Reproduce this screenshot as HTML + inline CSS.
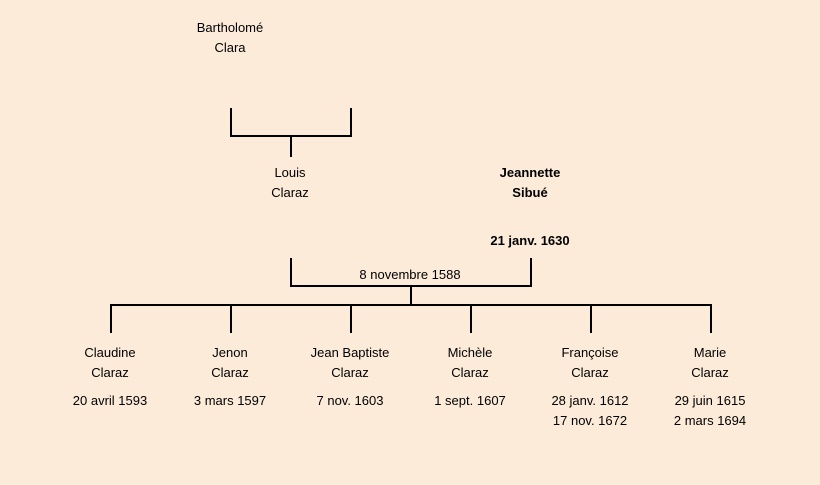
<!DOCTYPE html>
<html><head><meta charset="utf-8"><style>
html,body{margin:0;padding:0;}
body{width:820px;height:485px;background:#fcebd9;position:relative;overflow:hidden;font-family:"Liberation Sans",sans-serif;font-size:13px;color:#000;}
.t{position:absolute;width:160px;text-align:center;line-height:20px;white-space:nowrap;}
.b{font-weight:bold;}
svg{position:absolute;left:0;top:0;}
</style></head><body>
<svg width="820" height="485">
<g stroke="#000" stroke-width="2" fill="none">
<path d="M231 108V136H351V108M291 136V157"/>
<path d="M291 258V286H531V258M411 286V305"/>
<path d="M111 333V305H711V333M231 305V333M351 305V333M471 305V333M591 305V333"/>
</g>
</svg>
<div class="t" style="left:150px;top:18px">Bartholomé<br>Clara</div>
<div class="t" style="left:210px;top:163px">Louis<br>Claraz</div>
<div class="t b" style="left:450px;top:163px">Jeannette<br>Sibué</div>
<div class="t b" style="left:450px;top:231px">21 janv. 1630</div>
<div class="t" style="left:330px;top:265px">8 novembre 1588</div>

<div class="t" style="left:30px;top:343px">Claudine<br>Claraz</div>
<div class="t" style="left:30px;top:391px">20 avril 1593</div>
<div class="t" style="left:150px;top:343px">Jenon<br>Claraz</div>
<div class="t" style="left:150px;top:391px">3 mars 1597</div>
<div class="t" style="left:270px;top:343px">Jean Baptiste<br>Claraz</div>
<div class="t" style="left:270px;top:391px">7 nov. 1603</div>
<div class="t" style="left:390px;top:343px">Michèle<br>Claraz</div>
<div class="t" style="left:390px;top:391px">1 sept. 1607</div>
<div class="t" style="left:510px;top:343px">Françoise<br>Claraz</div>
<div class="t" style="left:510px;top:391px">28 janv. 1612<br>17 nov. 1672</div>
<div class="t" style="left:630px;top:343px">Marie<br>Claraz</div>
<div class="t" style="left:630px;top:391px">29 juin 1615<br>2 mars 1694</div>
</body></html>
